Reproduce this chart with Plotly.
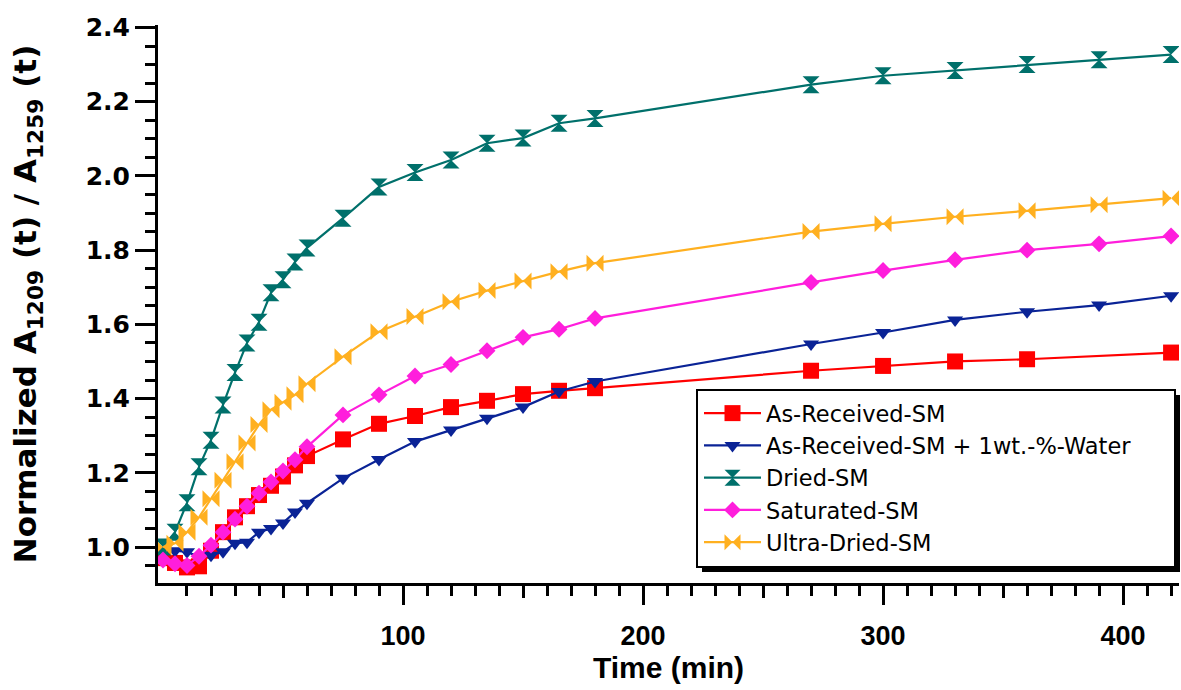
import plotly.graph_objects as go

time_early = [0, 5, 10, 15, 20, 25, 30, 35, 40, 45, 50, 55, 60]
time_late = [75, 90, 105, 120, 135, 150, 165, 180, 270, 300, 330, 360, 390, 420]
time_all = time_early + time_late
time_red = time_early + [75, 90, 105, 120, 135, 150, 165, 180, 270, 300, 330, 360, 420]

as_received = [0.97, 0.957, 0.945, 0.948, 0.99, 1.04, 1.08, 1.11, 1.14, 1.165, 1.19, 1.22, 1.245,
               1.290, 1.332, 1.353, 1.377, 1.394, 1.412, 1.421, 1.428,
               1.475, 1.488, 1.500, 1.506, 1.524]
as_received_water = [0.99, 0.99, 0.987, 0.973, 0.978, 0.987, 1.01, 1.013, 1.04, 1.05, 1.065, 1.094, 1.118,
                     1.185, 1.236, 1.284, 1.315, 1.347, 1.377, 1.419, 1.446,
                     1.547, 1.578, 1.612, 1.634, 1.652, 1.677]
dried = [1.0, 1.04, 1.119, 1.216, 1.288, 1.383, 1.47, 1.55, 1.606, 1.685, 1.72, 1.768, 1.806,
         1.886, 1.970, 2.009, 2.043, 2.088, 2.102, 2.142, 2.155,
         2.246, 2.27, 2.284, 2.30, 2.313, 2.327]
saturated = [0.965, 0.955, 0.95, 0.975, 1.005, 1.04, 1.075, 1.11, 1.145, 1.175, 1.205, 1.235, 1.27,
             1.356, 1.410, 1.461, 1.492, 1.529, 1.565, 1.587, 1.616,
             1.713, 1.745, 1.774, 1.800, 1.817, 1.838]
ultra_dried = [1.0, 1.01, 1.04, 1.08, 1.13, 1.18, 1.23, 1.28, 1.33, 1.37, 1.39, 1.41, 1.44,
               1.513, 1.580, 1.621, 1.661, 1.691, 1.717, 1.742, 1.765,
               1.850, 1.871, 1.890, 1.906, 1.922, 1.940]

series = [
    ("As-Received-SM", time_red, as_received, "#FF0000", "square", 16),
    ("As-Received-SM + 1wt.-%-Water", time_all, as_received_water, "#0A2396", "triangle-down", 14),
    ("Dried-SM", time_all, dried, "#00706B", "hourglass", 17),
    ("Saturated-SM", time_all, saturated, "#FF1EDC", "diamond", 13),
    ("Ultra-Dried-SM", time_all, ultra_dried, "#FFB020", "bowtie", 17),
]

x_major = [100, 200, 300, 400]
x_mid = [50, 150, 250, 350]
x_minor = [v for v in range(10, 421, 10) if v % 50 != 0]

# plot-area geometry in pixels (used for the legend frame only)
L, R, T, B = 158, 1179, 25, 583
W, H = R - L, B - T


def px(xp):
    return (xp - L) / W


def py(yp):
    return (B - yp) / H


fig = go.Figure()
for name, xs, ys, color, sym, size in series:
    fig.add_trace(go.Scatter(
        x=xs, y=ys, name=name, mode="lines+markers",
        line=dict(color=color, width=2.2),
        marker=dict(symbol=sym, size=size, color=color, line=dict(width=0)),
    ))

fig.add_trace(go.Scatter(x=[None], y=[None], xaxis="x2", showlegend=False, hoverinfo="skip"))

# legend frame with drop shadow
fig.add_shape(type="rect", xref="paper", yref="paper",
              x0=px(702), x1=px(1180), y0=py(572), y1=py(395),
              fillcolor="black", line=dict(width=0), layer="above")
fig.add_shape(type="rect", xref="paper", yref="paper",
              x0=px(697), x1=px(1175), y0=py(567), y1=py(390),
              fillcolor="white", line=dict(color="black", width=2), layer="above")

fig.update_layout(
    width=1181, height=690,
    margin=dict(l=L, r=1181 - R, t=T, b=690 - B),
    paper_bgcolor="white", plot_bgcolor="white",
    xaxis=dict(
        range=[-2.08, 423.3], showgrid=False, zeroline=False,
        showline=True, linecolor="black", linewidth=3,
        tickmode="array", tickvals=x_major, ticktext=[str(v) for v in x_major],
        ticks="outside", ticklen=19, tickwidth=3, tickcolor="black",
        ticklabelstandoff=8,
        tickfont=dict(family="Liberation Sans, Arial", size=27, color="black", weight="bold"),
        minor=dict(tickvals=x_minor, ticks="outside", ticklen=10, tickwidth=3, tickcolor="black", showgrid=False),
        title=dict(text="Time (min)", standoff=4,
                   font=dict(family="Liberation Sans, Arial", size=30, color="black", weight="bold")),
    ),
    xaxis2=dict(
        overlaying="x", matches="x", side="bottom", showgrid=False, zeroline=False,
        showline=False, tickmode="array", tickvals=x_mid, ticktext=["" for _ in x_mid],
        ticks="outside", ticklen=14, tickwidth=3, tickcolor="black", showticklabels=False,
    ),
    yaxis=dict(
        range=[0.903, 2.4067], showgrid=False, zeroline=False,
        showline=True, linecolor="black", linewidth=3,
        tickmode="array", tickvals=[1.0, 1.2, 1.4, 1.6, 1.8, 2.0, 2.2, 2.4],
        ticktext=["1.0", "1.2", "1.4", "1.6", "1.8", "2.0", "2.2", "2.4"],
        ticks="outside", ticklen=20, tickwidth=3, tickcolor="black",
        tickfont=dict(family="DejaVu Sans", size=25, color="black", weight="bold"),
        minor=dict(dtick=0.05, tick0=0, ticks="outside", ticklen=10, tickwidth=3, tickcolor="black", showgrid=False),
        title=dict(text="Normalized A<sub>1209</sub> (t) / A<sub>1259</sub> (t)", standoff=40,
                   font=dict(family="DejaVu Sans", size=31, color="black", weight="bold")),
    ),
    legend=dict(
        x=px(699), y=py(392), xanchor="left", yanchor="top",
        bgcolor="rgba(0,0,0,0)", borderwidth=0,
        font=dict(family="DejaVu Sans", size=22.5, color="black"),
        itemwidth=57, tracegroupgap=0,
    ),
    showlegend=True,
)

fig.write_html("out.html")
